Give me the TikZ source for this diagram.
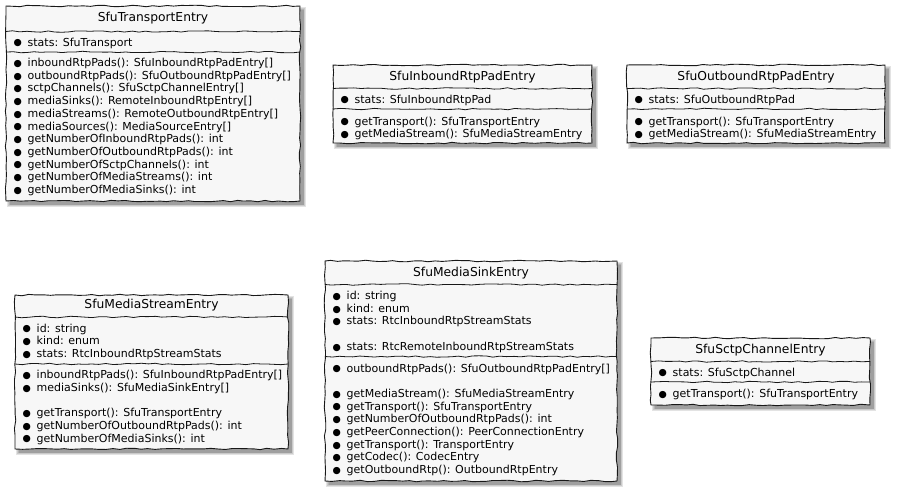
\documentclass[tikz,border=0pt]{standalone}
\usepackage{fontspec}
\setmainfont{DejaVu Sans}
\usetikzlibrary{decorations.pathmorphing}
\definecolor{boxfill}{HTML}{F7F7F7}
\definecolor{boxline}{HTML}{181818}
\tikzset{
  wob/.style={decorate, decoration={random steps, segment length=7pt, amplitude=0.75pt}},
  boxborder/.style={wob, draw=boxline, line width=0.9pt, fill=boxfill},
  sepline/.style={wob, draw=boxline, line width=0.8pt},
  titletext/.style={font=\fontsize{12.3}{14}\selectfont, inner sep=0pt, anchor=center, text=black},
  member/.style={font=\fontsize{11}{12.8}\selectfont, inner sep=0pt, anchor=base west, text=black},
  shadowpart/.style={fill=black, opacity=0.11, draw=none},
}
\newcommand\bul{\makebox[11pt][c]{\fontsize{9.5}{9.5}\selectfont\raisebox{0.2pt}{●}}\hspace{4.5pt}}
% #1 name, #2 left, #3 top, #4 right, #5 bottom, #6 first separator, #7 second separator, #8 title, #9 title y
\newcommand\classbox[9]{%
  \foreach \k in {0,1,2,3}{%
    \fill[shadowpart] ({#2+3.5-\k*0.8},{#3+3.5-\k*0.8}) rectangle ({#4+3.5+\k*0.8},{#5+3.5+\k*0.8});
  }
  \draw[boxborder] (#2,#3) rectangle (#4,#5);
  \draw[sepline] (#2,#6) -- (#4,#6);
  \draw[sepline] (#2,#7) -- (#4,#7);
  \node[titletext] (#1-title) at ({(#2+#4)/2},#9) {#8};
}
% #1 prefix, #2 left, #3 list of y/text
\newcommand\members[3]{%
  \foreach \yy/\txt [count=\i] in {#3}{%
    \node[member] (#1-\i) at ({#2+6},{\yy+4}) {\bul\txt};
  }
}
\begin{document}
\begin{tikzpicture}[x=1pt,y=-1pt]
\pgfmathsetseed{11}
\fill[white] (0,0) rectangle (897,493);
\useasboundingbox (0,0) rectangle (897,493);

% SfuTransportEntry
\classbox{T}{6}{6}{300}{201}{31.5}{52}{SfuTransportEntry}{18.5}
\members{Ta}{6}{42/{stats: SfuTransport}}
\members{Tm}{6}{62.5/{inboundRtpPads(): SfuInboundRtpPadEntry[]},
  75.2/{outboundRtpPads(): SfuOutboundRtpPadEntry[]},
  87.9/{sctpChannels(): SfuSctpChannelEntry[]},
  100.6/{mediaSinks(): RemoteInboundRtpEntry[]},
  113.3/{mediaStreams(): RemoteOutboundRtpEntry[]},
  126/{mediaSources(): MediaSourceEntry[]},
  138.7/{getNumberOfInboundRtpPads(): int},
  151.4/{getNumberOfOutboundRtpPads(): int},
  164.1/{getNumberOfSctpChannels(): int},
  176.8/{getNumberOfMediaStreams(): int},
  189.5/{getNumberOfMediaSinks(): int}}

% SfuInboundRtpPadEntry
\classbox{I}{333}{65}{592}{143}{88.5}{109}{SfuInboundRtpPadEntry}{77.5}
\members{Ia}{333}{99/{stats: SfuInboundRtpPad}}
\members{Im}{333}{121/{getTransport(): SfuTransportEntry},
  133.7/{getMediaStream(): SfuMediaStreamEntry}}

% SfuOutboundRtpPadEntry
\classbox{O}{627}{65}{885}{143}{88.5}{109}{SfuOutboundRtpPadEntry}{77.5}
\members{Oa}{627}{99/{stats: SfuOutboundRtpPad}}
\members{Om}{627}{121/{getTransport(): SfuTransportEntry},
  133.7/{getMediaStream(): SfuMediaStreamEntry}}

% SfuMediaStreamEntry
\classbox{MS}{15}{295}{288}{449}{317}{364}{SfuMediaStreamEntry}{305.5}
\members{MSa}{15}{328/{id: string},
  340.7/{kind: enum},
  353.4/{stats: RtcInboundRtpStreamStats}}
\members{MSm}{15}{374.5/{inboundRtpPads(): SfuInboundRtpPadEntry[]},
  387.2/{mediaSinks(): SfuMediaSinkEntry[]},
  412.6/{getTransport(): SfuTransportEntry},
  425.3/{getNumberOfOutboundRtpPads(): int},
  438/{getNumberOfMediaSinks(): int}}

% SfuMediaSinkEntry
\classbox{MK}{325}{261}{617}{481}{284.5}{356.5}{SfuMediaSinkEntry}{273}
\members{MKa}{325}{295.5/{id: string},
  308.2/{kind: enum},
  320.9/{stats: RtcInboundRtpStreamStats},
  346.3/{stats: RtcRemoteInboundRtpStreamStats}}
\members{MKm}{325}{368/{outboundRtpPads(): SfuOutboundRtpPadEntry[]},
  393.4/{getMediaStream(): SfuMediaStreamEntry},
  406.1/{getTransport(): SfuTransportEntry},
  418.8/{getNumberOfOutboundRtpPads(): int},
  431.5/{getPeerConnection(): PeerConnectionEntry},
  444.2/{getTransport(): TransportEntry},
  456.9/{getCodec(): CodecEntry},
  469.6/{getOutboundRtp(): OutboundRtpEntry}}

% SfuSctpChannelEntry
\classbox{SC}{651}{338}{870}{405}{361.5}{382}{SfuSctpChannelEntry}{350}
\members{SCa}{651}{372/{stats: SfuSctpChannel}}
\members{SCm}{651}{393.5/{getTransport(): SfuTransportEntry}}
\end{tikzpicture}
\end{document}
